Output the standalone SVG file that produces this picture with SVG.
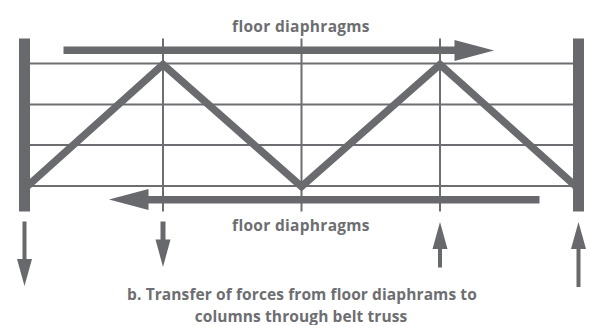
<svg xmlns="http://www.w3.org/2000/svg" width="590" height="325" viewBox="0 0 590 325">
<style>
.t{font-family:"Open Sans","Liberation Sans",sans-serif;font-weight:700;font-size:15.500px;fill:#6d6e71;text-anchor:middle}
.thin{stroke:#6d6e71;stroke-width:2;fill:none}
.truss{stroke:#6a6b6e;stroke-width:7.500;fill:none;stroke-linejoin:miter}
.col{fill:#68696c}
.arr{fill:#68696c}
</style>
<rect width="590" height="325" fill="#fff"/>
<g id="connectors">
<path class="thin" d="M30 63.500H573M30 104.500H573M30 145H573M30 186H573M163 38.500V211.500M301.500 38.500V211.500M440 38.500V211.500"/>
<path class="truss" d="M27 186.500L163 64.500L301.500 186.500L440 64.500L576 186.500"/>
<polygon class="arr" points="63.500,46.500 454.500,46.500 454.500,40 494,50.500 454.500,61 454.500,54 63.500,54"/>
<polygon class="arr" points="539.500,196 148.500,196 148.500,189 109,199.500 148.500,210 148.500,203.500 539.500,203.500"/>
<polygon class="arr" points="22.500,221.500 26.500,221.500 26.500,259 32,259 24.500,286 17,259 22.500,259"/>
<polygon class="arr" points="160.500,221.500 165.500,221.500 165.500,239.500 170.500,239.500 163,267 155.500,239.500 160.500,239.500"/>
<polygon class="arr" points="438,267.500 442,267.500 442,249 447.500,249 440,222 432.500,249 438,249"/>
<polygon class="arr" points="576.500,287 580.500,287 580.500,249 586,249 578.500,222 571,249 576.500,249"/>
</g>
<g id="col-left"><rect class="col" x="19" y="38.500" width="11" height="173"/></g>
<g id="col-right"><rect class="col" x="573" y="38.500" width="11" height="173"/></g>
<g id="label-top"><text class="t" x="301" y="31.500" letter-spacing="0.300">floor diaphragms</text></g>
<g id="label-bottom"><text class="t" x="301" y="230.500" letter-spacing="0.300">floor diaphragms</text></g>
<g id="caption" letter-spacing="0.100"><text class="t" x="302" y="300">b. Transfer of forces from floor diaphrams to</text><text class="t" x="301" y="321.500">columns through belt truss</text></g>
</svg>
